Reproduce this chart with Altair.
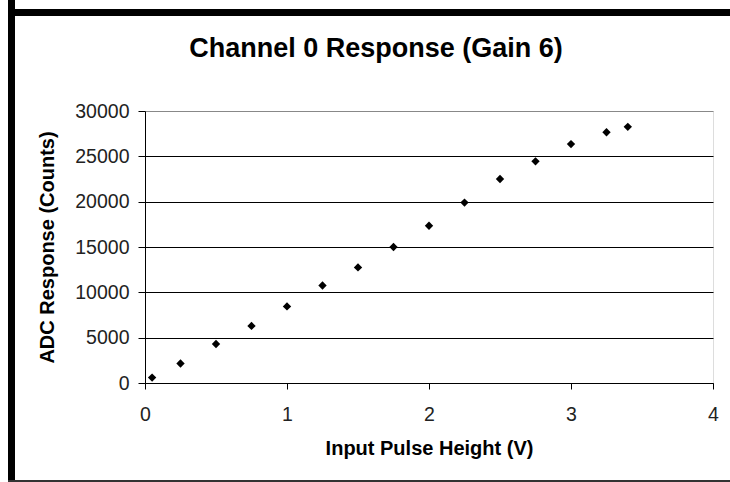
import altair as alt
import pandas as pd

pulse_height_v = [0.05, 0.25, 0.5, 0.75, 1.0, 1.25, 1.5, 1.75, 2.0, 2.25, 2.5, 2.75, 3.0, 3.25, 3.4]
adc_counts = [600, 2150, 4300, 6300, 8450, 10750, 12750, 15000, 17350, 19900, 22500, 24450, 26350, 27650, 28250]
chart_title = ["Channel 0 Response (Gain 6)"]

df = pd.DataFrame({"v": pulse_height_v, "c": adc_counts})

FONT = "Liberation Sans"

points = alt.Chart(df).mark_point(shape="diamond", filled=True, color="black", size=70, opacity=1).encode(
    x=alt.X("v:Q", scale=alt.Scale(domain=[0, 4], nice=False),
            axis=alt.Axis(values=[0, 1, 2, 3, 4], title="Input Pulse Height (V)", grid=False,
                          format="d", labelFlush=False,
                          domainColor="black", tickColor="black", tickSize=6,
                          labelFontSize=19.5, labelColor="#222222", labelFont=FONT, labelPadding=16,
                          titleFont=FONT, titleFontSize=20, titleFontWeight="bold", titleColor="black",
                          titlePadding=15)),
    y=alt.Y("c:Q", scale=alt.Scale(domain=[0, 30000], nice=False),
            axis=alt.Axis(values=[0, 5000, 10000, 15000, 20000, 25000, 30000], title="ADC Response (Counts)",
                          grid=True, format="d", labelFlush=False,
                          gridColor={"condition": {"test": "datum.value === 30000", "value": "#888888"}, "value": "black"},
                          gridOpacity=1, gridWidth=1,
                          domainColor="black", tickColor="black", tickSize=7,
                          labelFontSize=19.5, labelColor="#222222", labelFont=FONT, labelPadding=9,
                          titleFont=FONT, titleFontSize=20, titleFontWeight="bold", titleColor="black",
                          titlePadding=17)),
)

title_text = alt.Chart(pd.DataFrame({"t": chart_title})).mark_text(
    font=FONT, fontSize=27, fontWeight="bold", color="black", align="center", baseline="alphabetic"
).encode(text="t:N", x=alt.value(231), y=alt.value(-54))

# decorative frame (black bars at left/top, thin line at bottom)
left_bar = alt.Chart(df).mark_rule(color="black", strokeWidth=7).encode(
    x=alt.value(-133.5), y=alt.value(-111), y2=alt.value(371))
top_bar = alt.Chart(df).mark_rule(color="black", strokeWidth=7).encode(
    x=alt.value(-137), x2=alt.value(585), y=alt.value(-98.5))
bottom_line = alt.Chart(df).mark_rule(color="#333333", strokeWidth=2).encode(
    x=alt.value(-137), x2=alt.value(585), y=alt.value(370))

chart = alt.layer(points, title_text, left_bar, top_bar, bottom_line).properties(
    width=568, height=272,
    autosize=alt.AutoSizeParams(type="none"),
    padding={"left": 145, "top": 111, "right": 17, "bottom": 99},
).configure_view(stroke="#888888", strokeWidth=1.5).configure(background="white")

chart.save("out.html", embed_options={"renderer": "svg", "actions": False})
